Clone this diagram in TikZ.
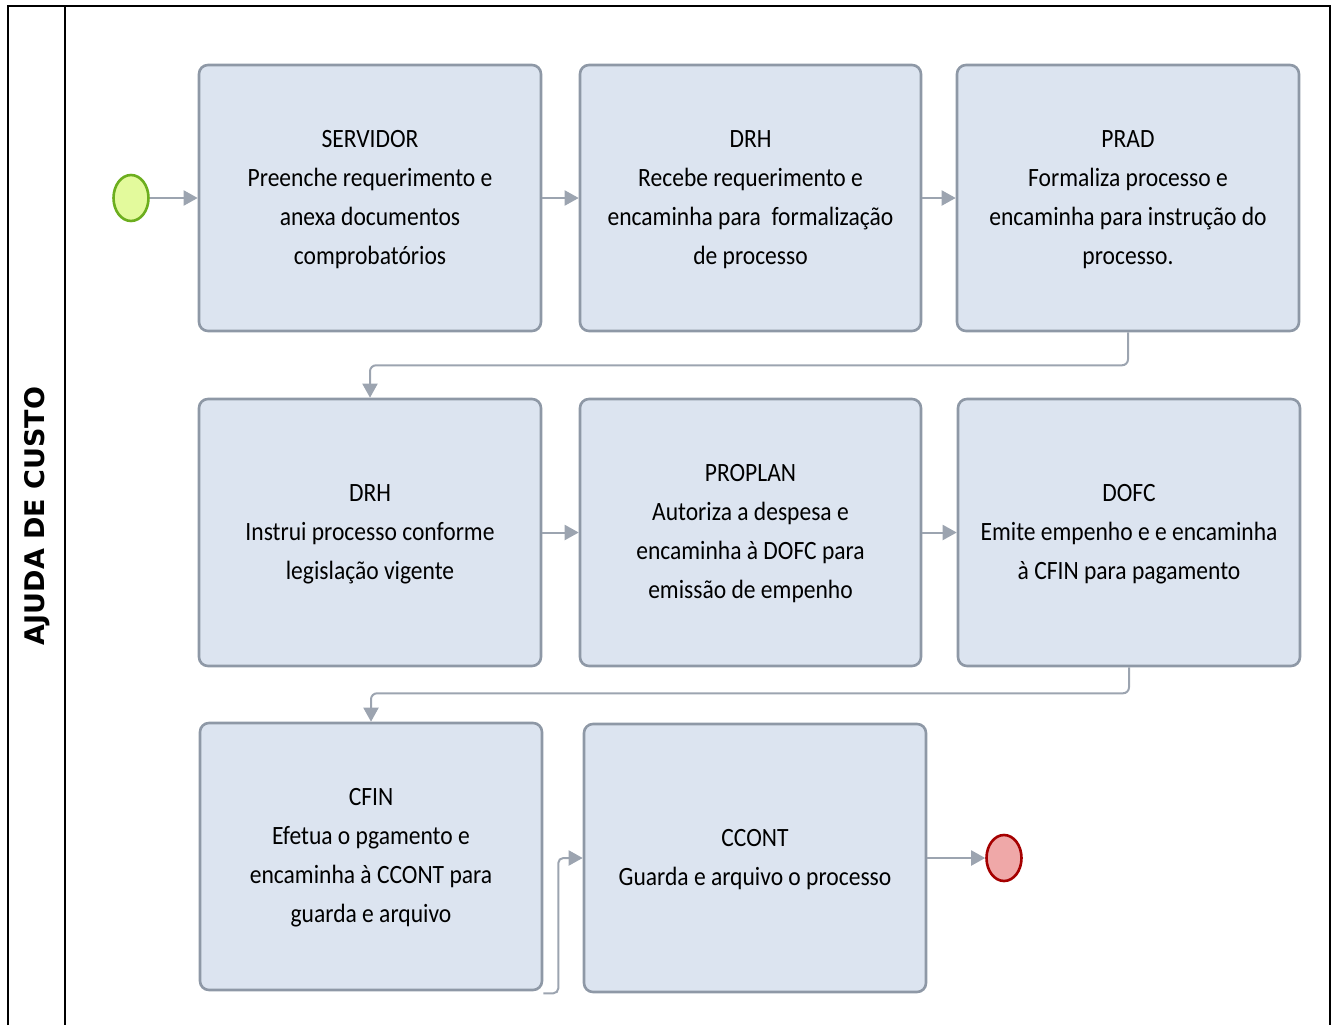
\documentclass[tikz,border=0pt]{standalone}
\usepackage{fontspec}
\setmainfont{Carlito}
\newfontfamily\lanefont{DejaVu Sans}
\usetikzlibrary{arrows.meta,shapes.geometric}
\definecolor{boxfill}{HTML}{DCE4F0}
\definecolor{boxline}{HTML}{8E98A6}
\definecolor{connc}{HTML}{9CA4B0}
\definecolor{startfill}{HTML}{E3FA9C}
\definecolor{startline}{HTML}{6CAE1E}
\definecolor{endfill}{HTML}{EFA8A8}
\definecolor{endline}{HTML}{A50000}
\newcommand{\bxtext}[1]{\scalebox{1.07}[1.2]{\begin{tabular}{@{}c@{}}#1\end{tabular}}}
\tikzset{
  taskbox/.style={draw=boxline, fill=boxfill, line width=2.6pt, rounded corners=9pt,
    inner sep=0pt, font=\fontsize{22}{32.5}\selectfont, align=center},
  conn/.style={draw=connc, line width=2pt, -{Triangle[length=14pt,width=15pt]}},
  startev/.style={ellipse, draw=startline, fill=startfill, line width=2.6pt, minimum width=35pt, minimum height=46pt, inner sep=0pt},
  endev/.style={ellipse, draw=endline, fill=endfill, line width=2.6pt, minimum width=35pt, minimum height=46pt, inner sep=0pt},
  frameline/.style={draw=black, line width=1.8pt}
}
\begin{document}
\begin{tikzpicture}[x=1pt,y=-1pt]
\useasboundingbox (0,0) rectangle (1338,1025);
% frame
\coordinate (ftl) at (8,6);
\coordinate (ftr) at (1330,6);
\coordinate (fbl) at (8,1025);
\coordinate (fbr) at (1330,1025);
\coordinate (dt) at (65,6);
\coordinate (db) at (65,1025);
\draw[frameline] (fbl) -- (ftl) -- (ftr) -- (fbr);
\draw[frameline] (dt) -- (db);
\node[rotate=90, font=\lanefont\bfseries\fontsize{27}{30}\selectfont] (lane) at (37,516) {AJUDA DE CUSTO};
% events
\node[startev] (s) at (131,198) {};
\node[endev] (e) at (1004,858) {};
% boxes
\node[taskbox, minimum width=342pt, minimum height=266pt] (b1) at (370,198)
  {\bxtext{SERVIDOR\\Preenche requerimento e\\anexa documentos\\comprobatórios}};
\node[taskbox, minimum width=341pt, minimum height=266pt] (b2) at (750.5,198)
  {\bxtext{DRH\\Recebe requerimento e\\encaminha para~ formalização\\de processo}};
\node[taskbox, minimum width=342pt, minimum height=266pt] (b3) at (1128,198)
  {\bxtext{PRAD\\Formaliza processo e\\encaminha para instrução do\\processo.}};
\node[taskbox, minimum width=342pt, minimum height=267pt] (b4) at (370,532.5)
  {\bxtext{DRH\\Instrui processo conforme\\legislação vigente}};
\node[taskbox, minimum width=341pt, minimum height=267pt] (b5) at (750.5,532.5)
  {\bxtext{PROPLAN\\Autoriza a despesa e\\encaminha à DOFC para\\emissão de empenho}};
\node[taskbox, minimum width=342pt, minimum height=267pt] (b6) at (1129,532.5)
  {\bxtext{DOFC\\Emite empenho e e encaminha\\à CFIN para pagamento}};
\node[taskbox, minimum width=342pt, minimum height=267pt] (b7) at (371,856.5)
  {\bxtext{CFIN\\Efetua o pgamento e\\encaminha à CCONT para\\guarda e arquivo}};
\node[taskbox, minimum width=342pt, minimum height=268pt] (b8) at (755,858)
  {\bxtext{CCONT\\Guarda e arquivo o processo}};
% connectors
\draw[conn] (s) -- (b1);
\draw[conn] (b1) -- (b2);
\draw[conn] (b2) -- (b3);
\draw[conn, rounded corners=6pt] (b3.south) -- ++(0,33) -| (b4.north);
\draw[conn] (b4) -- (b5);
\draw[conn] (b5) -- (b6);
\draw[conn, rounded corners=6pt] (b6.south) -- ++(0,26) -| (b7.north);
\draw[conn, rounded corners=5pt] ([yshift=-2pt]b7.south east) -- ++(15,0) |- (b8.west);
\draw[conn] (b8) -- (e);
\end{tikzpicture}
\end{document}
